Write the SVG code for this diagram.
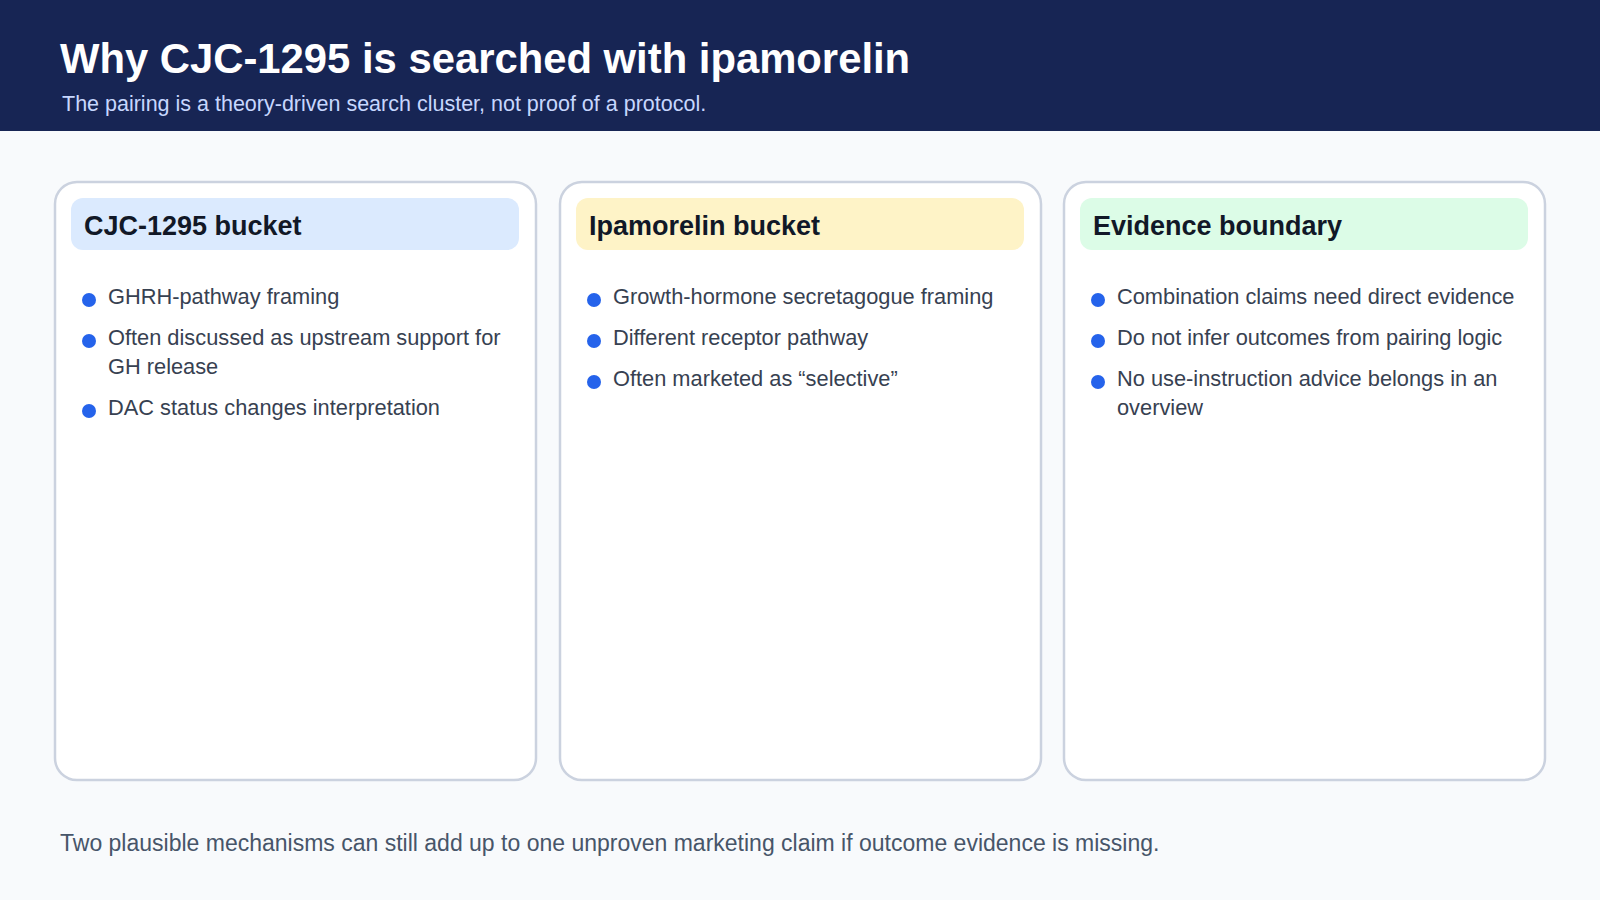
<svg xmlns="http://www.w3.org/2000/svg" width="1600" height="900" viewBox="0 0 1600 900">
<style>
.card{fill:#fff;stroke:#cbd2df;stroke-width:2.5}
.ht{font-family:"Liberation Sans",Arial,sans-serif;font-weight:bold;font-size:27px;fill:#111827}
.b{font-family:"Liberation Sans",Arial,sans-serif;font-size:21.8px;fill:#374151}
.dot{fill:#2563eb}
</style>
<rect width="1600" height="900" fill="#f8fafc"/>
<rect width="1600" height="131" fill="#172554"/>
<text x="60" y="73" font-family="Liberation Sans,Arial,sans-serif" font-weight="bold" font-size="41.8" fill="#fff">Why CJC-1295 is searched with ipamorelin</text>
<text x="62" y="111" font-family="Liberation Sans,Arial,sans-serif" font-size="21.5" fill="#c7d7fe">The pairing is a theory-driven search cluster, not proof of a protocol.</text>
<g id="card1">
<rect class="card" x="55" y="182" width="481" height="598" rx="22"/>
<rect x="71" y="198" width="448" height="52" rx="12" fill="#dbeafe"/>
<text class="ht" x="84" y="235">CJC-1295 bucket</text>
<circle class="dot" cx="89" cy="300" r="7"/><text class="b" x="108" y="304">GHRH-pathway framing</text>
<circle class="dot" cx="89" cy="341" r="7"/><text class="b" x="108" y="345">Often discussed as upstream support for</text><text class="b" x="108" y="374">GH release</text>
<circle class="dot" cx="89" cy="411" r="7"/><text class="b" x="108" y="415">DAC status changes interpretation</text>
</g>
<g id="card2">
<rect class="card" x="560" y="182" width="481" height="598" rx="22"/>
<rect x="576" y="198" width="448" height="52" rx="12" fill="#fef3c7"/>
<text class="ht" x="589" y="235">Ipamorelin bucket</text>
<circle class="dot" cx="594" cy="300" r="7"/><text class="b" x="613" y="304">Growth-hormone secretagogue framing</text>
<circle class="dot" cx="594" cy="341" r="7"/><text class="b" x="613" y="345">Different receptor pathway</text>
<circle class="dot" cx="594" cy="382" r="7"/><text class="b" x="613" y="386">Often marketed as “selective”</text>
</g>
<g id="card3">
<rect class="card" x="1064" y="182" width="481" height="598" rx="22"/>
<rect x="1080" y="198" width="448" height="52" rx="12" fill="#dcfce7"/>
<text class="ht" x="1093" y="235">Evidence boundary</text>
<circle class="dot" cx="1098" cy="300" r="7"/><text class="b" x="1117" y="304">Combination claims need direct evidence</text>
<circle class="dot" cx="1098" cy="341" r="7"/><text class="b" x="1117" y="345">Do not infer outcomes from pairing logic</text>
<circle class="dot" cx="1098" cy="382" r="7"/><text class="b" x="1117" y="386">No use-instruction advice belongs in an</text><text class="b" x="1117" y="415">overview</text>
</g>
<g id="connectors"/>
<text x="60" y="851" font-family="Liberation Sans,Arial,sans-serif" font-size="23" fill="#475569">Two plausible mechanisms can still add up to one unproven marketing claim if outcome evidence is missing.</text>
</svg>
